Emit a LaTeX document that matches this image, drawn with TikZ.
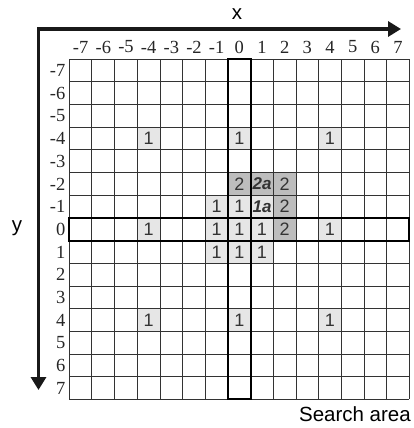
\documentclass[tikz,border=0pt]{standalone}
\usepackage{fontspec}
\setmainfont{Liberation Serif}
\setsansfont{Liberation Sans}
\usetikzlibrary{arrows.meta}
\definecolor{lightcell}{HTML}{E6E6E6}
\definecolor{darkcell}{HTML}{BDBDBD}
\definecolor{numtext}{HTML}{333333}
\begin{document}
\begin{tikzpicture}[x=1pt,y=-1pt,
  cellbox/.style={minimum size=22.67pt,inner sep=0pt,text=numtext,
    font=\sffamily\fontsize{18}{20}\selectfont},
  ticklbl/.style={inner sep=0pt,text=black!85,font=\rmfamily\fontsize{18.5}{20}\selectfont},
  axislbl/.style={inner sep=0pt,font=\sffamily\fontsize{20.5}{22}\selectfont},
  gridline/.style={line width=1pt,black!80},
  hilite/.style={line width=2.2pt,black},
  axisline/.style={line width=3.4pt,black!90,line join=miter,
    {Triangle[length=13pt,width=15pt]}-{Triangle[length=13pt,width=15pt]}}]
\useasboundingbox (0,0) rectangle (414,428);
\def\XO{69.33}
\def\YO{59.33}
\def\cs{22.667}
% shaded cells
\foreach \i/\j/\t/\f in {-4/-4/1/lightcell, 0/-4/1/lightcell, 4/-4/1/lightcell,
  -4/0/1/lightcell, 4/0/1/lightcell, -4/4/1/lightcell, 0/4/1/lightcell, 4/4/1/lightcell,
  -1/-1/1/lightcell, 0/-1/1/lightcell, -1/0/1/lightcell, 0/0/1/lightcell, 1/0/1/lightcell,
  -1/1/1/lightcell, 0/1/1/lightcell, 1/1/1/lightcell,
  0/-2/2/darkcell, 2/-2/2/darkcell, 2/-1/2/darkcell, 2/0/2/darkcell}
  \node[cellbox,fill=\f] (c\i_\j) at ({\XO+(\i+7.5)*\cs},{\YO+(\j+7.5)*\cs}) {\t};
\node[cellbox,fill=darkcell,font=\sffamily\bfseries\itshape\fontsize{17}{18}\selectfont]
  (c2a) at ({\XO+8.5*\cs},{\YO+5.5*\cs}) {2a};
\node[cellbox,fill=lightcell,font=\sffamily\bfseries\itshape\fontsize{17}{18}\selectfont]
  (c1a) at ({\XO+8.5*\cs},{\YO+6.5*\cs}) {1a};
% grid
\foreach \k in {0,...,15} {
  \draw[gridline] ({\XO+\k*\cs},\YO) -- ({\XO+\k*\cs},{\YO+15*\cs});
  \draw[gridline] (\XO,{\YO+\k*\cs}) -- ({\XO+15*\cs},{\YO+\k*\cs});
}
\draw[hilite] ({\XO+7*\cs},\YO) rectangle ({\XO+8*\cs},{\YO+15*\cs});
\draw[hilite] (\XO,{\YO+7*\cs}) rectangle ({\XO+15*\cs},{\YO+8*\cs});
% tick labels
\foreach \k in {-7,...,7} {
  \node[ticklbl] (tx\k) at ({\XO+(\k+7.5)*\cs},47) {\k};
  \node[ticklbl,anchor=east] (ty\k) at (65.5,{\YO+(\k+7.5)*\cs}) {\k};
}
% axes
\coordinate (xend) at (401,29);
\coordinate (yend) at (38.5,390);
\draw[axisline] (yend) |- (xend);
\node[axislbl] (xl) at (237,14) {x};
\node[axislbl] (yl) at (17,228) {y};
\node[axislbl,anchor=east] (sa) at (411,414) {Search area};
\end{tikzpicture}
\end{document}
